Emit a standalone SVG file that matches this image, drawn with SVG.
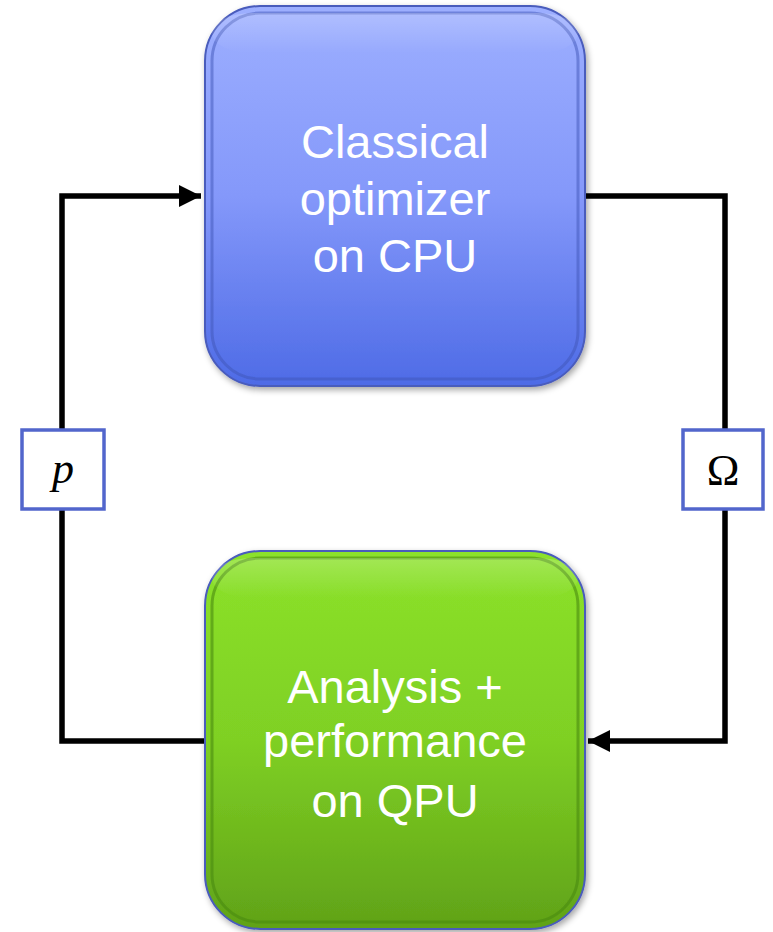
<svg xmlns="http://www.w3.org/2000/svg" width="773" height="932" viewBox="0 0 773 932">
<style>
.node-text{font-family:"Liberation Sans",Arial,sans-serif;font-size:47px;fill:#ffffff;text-anchor:middle}
.conn{fill:none;stroke:#000;stroke-width:5.5;stroke-linejoin:miter}
.lbl{fill:#fff;stroke:#5266cc;stroke-width:3.5}
.math{font-family:"Liberation Serif","Times New Roman",serif;font-size:44px;fill:#000;text-anchor:middle}
</style>
<defs>
<linearGradient id="gBlue" x1="0" y1="0" x2="0" y2="1">
<stop offset="0" stop-color="#9dafff"/>
<stop offset="0.5" stop-color="#8498fa"/>
<stop offset="1" stop-color="#4e6be6"/>
</linearGradient>
<linearGradient id="gGreen" x1="0" y1="0" x2="0" y2="1">
<stop offset="0" stop-color="#8ce22a"/>
<stop offset="0.5" stop-color="#7fd024"/>
<stop offset="1" stop-color="#60a218"/>
</linearGradient>
<linearGradient id="hl" x1="0" y1="0" x2="0" y2="1">
<stop offset="0" stop-color="#fff" stop-opacity="0.2"/>
<stop offset="1" stop-color="#fff" stop-opacity="0"/>
</linearGradient>
<marker id="arr" markerWidth="4" markerHeight="4" refX="4" refY="2" orient="auto" markerUnits="strokeWidth">
<path d="M0,0 L4,2 L0,4 z" fill="#000"/>
</marker>
<filter id="sh" x="-10%" y="-10%" width="120%" height="120%">
<feDropShadow dx="2" dy="3" stdDeviation="3" flood-color="#000" flood-opacity="0.35"/>
</filter>
</defs>
<g id="connectors">
<path class="conn" d="M205,741 H62 V196 H201" marker-end="url(#arr)"/>
<path class="conn" d="M585,196 H725 V741 H588" marker-end="url(#arr)"/>
</g>
<g id="node-cpu">
<rect x="205" y="6" width="380" height="380" rx="55" fill="url(#gBlue)" stroke="#4a5cbc" stroke-width="2" filter="url(#sh)"/>
<rect x="212" y="13" width="366" height="366" rx="48" fill="none" stroke="#3f55b8" stroke-opacity="0.5" stroke-width="3"/>
<rect x="212" y="13" width="366" height="40" rx="40" fill="url(#hl)"/>
<text class="node-text" x="395" y="158">Classical</text>
<text class="node-text" x="395" y="215">optimizer</text>
<text class="node-text" x="395" y="272">on CPU</text>
</g>
<g id="node-qpu">
<rect x="205" y="551" width="380" height="378" rx="55" fill="url(#gGreen)" stroke="#4a5cbc" stroke-width="2" filter="url(#sh)"/>
<rect x="212" y="558" width="366" height="364" rx="48" fill="none" stroke="#4a8a10" stroke-opacity="0.6" stroke-width="3"/>
<rect x="212" y="558" width="366" height="40" rx="40" fill="url(#hl)"/>
<text class="node-text" x="395" y="703">Analysis +</text>
<text class="node-text" x="395" y="757">performance</text>
<text class="node-text" x="395" y="817">on QPU</text>
</g>
<g id="label-p">
<rect class="lbl" x="22" y="430" width="82" height="79"/>
<text class="math" x="63" y="483" font-style="italic">p</text>
</g>
<g id="label-omega">
<rect class="lbl" x="683" y="430" width="80" height="79"/>
<text class="math" x="723" y="485">Ω</text>
</g>
</svg>
